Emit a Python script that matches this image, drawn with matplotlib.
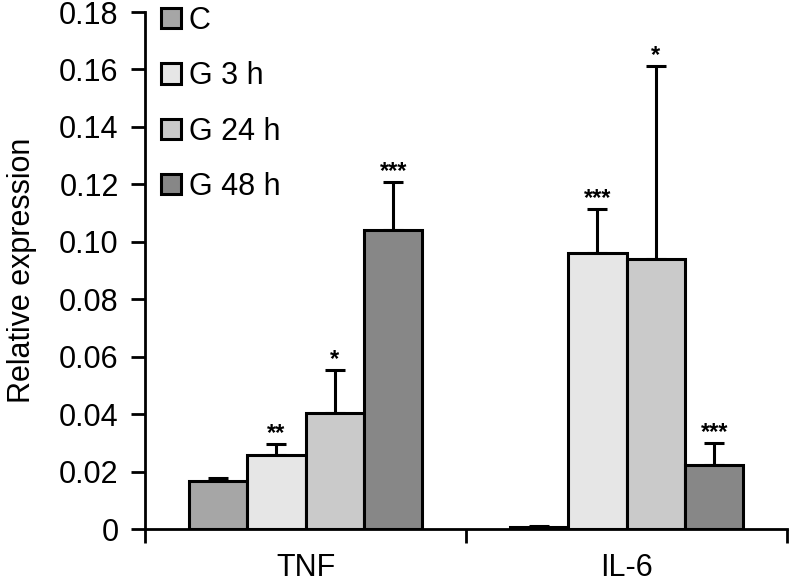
import matplotlib.pyplot as plt
from matplotlib.ticker import FuncFormatter
import numpy as np

plt.rcParams['font.family'] = ['Liberation Sans', 'DejaVu Sans']

genes = ["TNF", "IL-6"]
groups = ["C", "G 3 h", "G 24 h", "G 48 h"]
colors = ["#a6a6a6", "#e6e6e6", "#cacaca", "#878787"]

# mean values per group, [TNF, IL-6]
means = {
    "C":      [0.0167, 0.0008],
    "G 3 h":  [0.0256, 0.0961],
    "G 24 h": [0.0404, 0.0940],
    "G 48 h": [0.1041, 0.0223],
}
# upper error (SD)
errs = {
    "C":      [0.0010, 0.0004],
    "G 3 h":  [0.0040, 0.0153],
    "G 24 h": [0.0150, 0.0672],
    "G 48 h": [0.0167, 0.0077],
}
stars = {
    "C":      ["", ""],
    "G 3 h":  ["**", "***"],
    "G 24 h": ["*", "*"],
    "G 48 h": ["***", "***"],
}

fs = 22

fig = plt.figure(figsize=(7.89, 5.83), dpi=100)
ax = fig.add_axes([0.1838, 0.0926, 0.8137, 0.8868])

width = 0.182
centers = np.arange(len(genes)) + 0.5
for i, g in enumerate(groups):
    x = centers + (i - 1.5) * width
    ax.bar(x, means[g], width, color=colors[i], edgecolor="black",
           linewidth=2.2, label=g, zorder=2)
    ax.errorbar(x, means[g], yerr=[np.zeros(2), errs[g]], fmt="none",
                ecolor="black", elinewidth=2.2, capsize=7.5, capthick=2.2,
                zorder=1)
    for xi, m, e, s in zip(x, means[g], errs[g], stars[g]):
        if s:
            ax.annotate(s, (xi, m + e), xytext=(0, 3), textcoords="offset points",
                        ha="center", va="baseline", fontsize=17,
                        fontweight="bold")

ax.set_xlim(0, 2)
ax.set_ylim(0, 0.18)
ax.set_yticks(np.arange(0, 0.181, 0.02))
ax.yaxis.set_major_formatter(FuncFormatter(lambda v, p: "0" if v == 0 else f"{v:.2f}"))
ax.set_xticks([0, 1, 2])
ax.set_xticklabels([])
for c, name in zip(centers, genes):
    ax.text(c, -0.0083, name, ha="center", va="top", fontsize=fs)

ax.spines["top"].set_visible(False)
ax.spines["right"].set_visible(False)
ax.spines["left"].set_linewidth(2)
ax.spines["bottom"].set_linewidth(2)
ax.tick_params(axis="y", direction="out", length=10, width=2, labelsize=fs, pad=9)
ax.tick_params(axis="x", direction="out", length=10, width=2)
ax.set_ylabel("Relative expression", fontsize=fs, labelpad=16)

ax.legend(loc="upper left", bbox_to_anchor=(0.025, 1.012), frameon=False,
          fontsize=fs, handlelength=0.66, handleheight=0.66,
          handletextpad=0.25, labelspacing=0.83, borderaxespad=0,
          borderpad=0)

fig.savefig("out.png", dpi=100)
